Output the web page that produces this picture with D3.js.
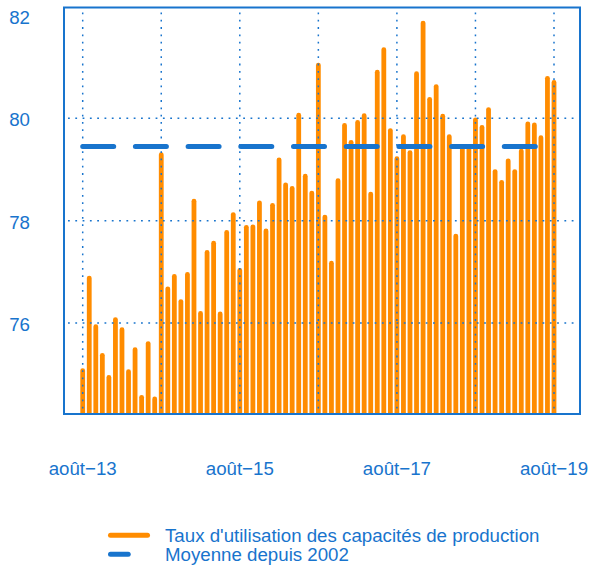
<!DOCTYPE html>
<html>
<head>
<meta charset="utf-8">
<script src="https://cdn.jsdelivr.net/npm/d3@7"></script>
<style>
  body { margin: 0; background: #fff; }
  text { font-family: "Liberation Sans", Arial, sans-serif; }
</style>
</head>
<body>
<div id="chart"></div>
<script>
// months from août 2013 to août 2019
const months = d3.timeMonth.range(new Date(2013, 7, 1), new Date(2019, 8, 1));

const tauxValues = [
    75.07, 76.88, 75.93, 75.37, 74.94, 76.07, 75.87, 75.05, 75.48, 74.55, 75.60, 74.52,
    79.29, 76.67, 76.91, 76.42, 76.95, 78.38, 76.19, 77.38, 77.56, 76.18, 77.77, 78.12,
    77.03, 77.87, 77.88, 78.35, 77.80, 78.30, 79.19, 78.70, 78.63, 80.06, 78.87, 78.54,
    81.04, 78.07, 77.17, 78.78, 79.86, 79.53, 79.92, 80.05, 78.52, 80.90, 81.34, 79.76,
    79.21, 79.64, 79.33, 80.87, 81.86, 80.37, 80.62, 80.04, 79.64, 77.70, 79.40, 79.40,
    79.97, 79.82, 80.17, 78.96, 78.75, 79.17, 78.96, 79.36, 79.89, 79.87, 79.62, 80.78,
    80.70
];

const moyenne = 79.45;

const yTicks = [76, 78, 80, 82];
const yGrid = [76, 78, 80];
const xTickMonths = [new Date(2013, 7, 1), new Date(2015, 7, 1), new Date(2017, 7, 1), new Date(2019, 7, 1)];
const xTickLabels = ["août−13", "août−15", "août−17", "août−19"];
const xGridMonths = [
    new Date(2013, 7, 1), new Date(2014, 7, 1), new Date(2015, 7, 1), new Date(2016, 7, 1),
    new Date(2017, 7, 1), new Date(2018, 7, 1), new Date(2019, 7, 1)
];

const legendLabels = ["Taux d'utilisation des capacités de production", "Moyenne depuis 2002"];

const blue = "#1874CD";
const orange = "#FF8C00";

const box = { left: 64, right: 580, top: 7.5, bottom: 414 };

const svg = d3.select("#chart").append("svg")
    .attr("width", 591)
    .attr("height", 565);

const x = d3.scalePoint()
    .domain(months.map(d => +d))
    .range([82.7, 554]);

const y = d3.scaleLinear()
    .domain([74.225, 82.164])
    .range([box.bottom, box.top]);

svg.append("clipPath")
    .attr("id", "plot-clip")
  .append("rect")
    .attr("x", box.left)
    .attr("y", box.top)
    .attr("width", box.right - box.left)
    .attr("height", box.bottom - box.top);

const plot = svg.append("g").attr("clip-path", "url(#plot-clip)");

// bars as thick vertical lines
plot.selectAll(".bar")
    .data(tauxValues)
  .enter().append("line")
    .attr("class", "bar")
    .attr("x1", (d, i) => x(+months[i]))
    .attr("x2", (d, i) => x(+months[i]))
    .attr("y1", y.range()[0] + 5)
    .attr("y2", d => y(d))
    .attr("stroke", orange)
    .attr("stroke-width", 4.8)
    .attr("stroke-linecap", "round");

// dotted grid
plot.selectAll(".vgrid")
    .data(xGridMonths)
  .enter().append("line")
    .attr("class", "vgrid")
    .attr("x1", d => x(+d))
    .attr("x2", d => x(+d))
    .attr("y1", box.top + 5)
    .attr("y2", box.bottom)
    .attr("stroke", blue)
    .attr("stroke-width", 1.5)
    .attr("stroke-dasharray", "1.8,5.5");

plot.selectAll(".hgrid")
    .data(yGrid)
  .enter().append("line")
    .attr("class", "hgrid")
    .attr("x1", box.left + 4)
    .attr("x2", box.right)
    .attr("y1", d => y(d))
    .attr("y2", d => y(d))
    .attr("stroke", blue)
    .attr("stroke-width", 1.5)
    .attr("stroke-dasharray", "1.8,5.5");

// mean line
const meanLine = d3.line()
    .x(d => x(+d))
    .y(() => y(moyenne));

plot.append("path")
    .datum([months[0], months[months.length - 1]])
    .attr("d", meanLine)
    .attr("fill", "none")
    .attr("stroke", blue)
    .attr("stroke-width", 5)
    .attr("stroke-linecap", "round")
    .attr("stroke-dasharray", "31,21.7");

// box
svg.append("rect")
    .attr("x", box.left)
    .attr("y", box.top)
    .attr("width", box.right - box.left)
    .attr("height", box.bottom - box.top)
    .attr("fill", "none")
    .attr("stroke", blue)
    .attr("stroke-width", 2);

// y labels
svg.selectAll(".ylab")
    .data(yTicks)
  .enter().append("text")
    .attr("class", "ylab")
    .attr("x", 30)
    .attr("y", d => y(d) + 1.5)
    .attr("dominant-baseline", "central")
    .attr("text-anchor", "end")
    .attr("fill", blue)
    .style("font-size", "18.7px")
    .text(d => d);

// x labels
svg.selectAll(".xlab")
    .data(xTickMonths)
  .enter().append("text")
    .attr("class", "xlab")
    .attr("x", d => x(+d))
    .attr("y", 475)
    .attr("text-anchor", "middle")
    .attr("fill", blue)
    .style("font-size", "18.7px")
    .text((d, i) => xTickLabels[i]);

// legend
const legend = svg.append("g");
const legendColors = [orange, blue];
const legendLen = [41, 21.7];

legend.selectAll(".lkey")
    .data(legendLabels)
  .enter().append("line")
    .attr("class", "lkey")
    .attr("x1", 110.5)
    .attr("x2", (d, i) => 110.5 + legendLen[i] - 4)
    .attr("y1", (d, i) => 535.3 + i * 19)
    .attr("y2", (d, i) => 535.3 + i * 19)
    .attr("stroke", (d, i) => legendColors[i])
    .attr("stroke-width", 5)
    .attr("stroke-linecap", "round");

legend.selectAll(".ltext")
    .data(legendLabels)
  .enter().append("text")
    .attr("class", "ltext")
    .attr("x", 165)
    .attr("y", (d, i) => 542.2 + i * 19)
    .attr("fill", blue)
    .style("font-size", "18.7px")
    .text(d => d);
</script>
</body>
</html>
